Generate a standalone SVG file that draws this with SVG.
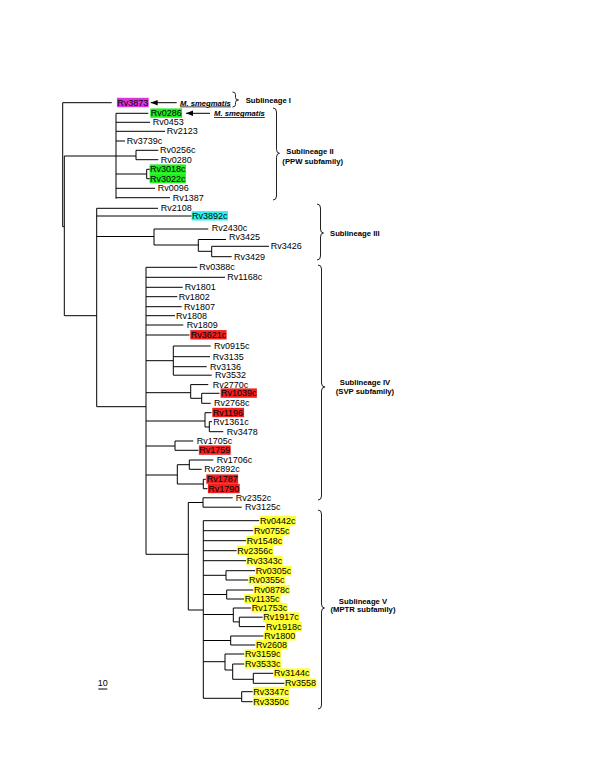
<svg xmlns="http://www.w3.org/2000/svg" width="600" height="776" viewBox="0 0 600 776">
<defs>
<style>
text{font-family:"Liberation Sans",Arial,sans-serif;fill:#000}
.lf{font-size:9px}
.lb{font-size:7.7px;font-weight:bold}
.ms{font-size:7.7px;font-weight:bold;font-style:italic;text-decoration:underline}
.br{fill:none;stroke:#222;stroke-width:1}
.tr{fill:none;stroke:#000;stroke-width:1}
.m{fill:#dd33dd}.g{fill:#22ee22}.c{fill:#33eeee}.r{fill:#ee2020}.y{fill:#ffff33}
</style>
<marker id="ah" markerUnits="userSpaceOnUse" markerWidth="7" markerHeight="6" refX="7" refY="3" orient="auto"><path d="M0,0.3 L7,3 L0,5.7 z" fill="#000"/></marker>
</defs>
<rect width="600" height="776" fill="#fff"/>
<g id="connectors" class="tr">
<path d="M62.7,102.7V226.7M62.7,102.7H111.7M62.7,226.7H64.3M64.3,156V315.7M64.3,156H136
M116,113.3V198.7M116,113.3H148.3M116,122.3H150M116,131.3H165M116,141H125
M136,150.3V159.7M136,150.3H158.3M136,159.7H158.3M116,174H146.7M146.7,169.3V178.7M146.7,169.3H150M146.7,178.7H150
M116,188.3H155M116,197.7H170
M64.3,315.7H96.7M96.7,208.3V406.7M96.7,208.3H158M96.7,216H191.7M96.7,236.5H154
M154,229V245M154,229H208.3M154,245H198.3M198.3,239.5V251.3M198.3,239.5H226M198.3,251.3H211.7
M211.7,246.3V256.7M211.7,246.3H269M211.7,256.7H231.7
M96.7,406.7H146M146,267.3V554.3
M146,267.3H197.3M146,277.3H225M146,287.3H182.7M146,296.7H177.3M146,306.7H181.7M146,315.7H175M146,325H183.3M146,335H189.5
M146,360.7H173.3M173.3,346V375.2M173.3,346H210.7M173.3,356.7H210M173.3,366.7H206.7M173.3,375.2H211.7
M146,392.7H190.7M190.7,384.6V398.3M190.7,384.6H208.3M190.7,398.3H201.7M201.7,393.3V403.3M201.7,393.3H219.5M201.7,403.3H210.7
M146,421H205M205,412.7V427M205,412.7H211.5M205,427H209.3M209.3,421.7V431.7M209.3,421.7H212M209.3,431.7H223.3
M146,446H175M175,441V450.3M175,441H193.3M175,450.3H198.5
M146,475H177.3M177.3,464.7V484M177.3,464.7H189.3M189.3,460V469.3M189.3,460H213.3M189.3,469.3H201.7
M177.3,484H203.3M203.3,479.3V488.7M203.3,479.3H205.8M203.3,488.7H207.5
M146,554.3H188.3M188.3,502.5V610M188.3,502.5H203M203,497.8V507.2M203,497.8H232.7M203,507.2H241.7
M188.3,610H203.3M203.3,520.7V698.3
M203.3,520.7H259.3M203.3,530.7H253.3M203.3,540.7H246M203.3,550.7H236.7M203.3,560.7H246
M203.3,575.3H226M226,570.7V580M226,570.7H255M226,580H248.3
M203.3,594.5H226.7M226.7,590V599M226.7,590H253.3M226.7,599H244
M203.3,614.5H233.3M233.3,608V621.9M233.3,608H251M233.3,621.9H239.3M239.3,617.2V626.6M239.3,617.2H262.7M239.3,626.6H265
M203.3,640.5H230.7M230.7,636V645M230.7,636H263.5M230.7,645H255.3
M203.3,661.7H225M225,654V670M225,654H244.3M225,670H232.7M232.7,664V679.3M232.7,664H244.3M232.7,679.3H253.3
M253.3,673.3V683.3M253.3,673.3H273.5M253.3,683.3H284.5
M203.3,698.3H241.7M241.7,691.7V701.7M241.7,691.7H252.7M241.7,701.7H252.7"/>
<line x1="176.7" y1="102.7" x2="150.7" y2="102.7" marker-end="url(#ah)"/>
<line x1="210" y1="113.3" x2="186" y2="113.3" marker-end="url(#ah)"/>
</g>
<g id="annotations">
<text class="ms" x="180" y="105.5">M. smegmatis</text>
<text class="ms" x="214" y="116">M. smegmatis</text>
<path class="br" d="M232.5,92Q235.5,92 235.5,94.5L235.5,97.5Q235.5,100 238.5,100Q235.5,100 235.5,102.5L235.5,104.5Q235.5,107 232.5,107"/>
<path class="br" d="M273,108Q276.5,108 276.5,112L276.5,149.3Q276.5,153.3 279.5,153.3Q276.5,153.3 276.5,157.3L276.5,196Q276.5,200 273,200"/>
<path class="br" d="M317,204Q320.5,204 320.5,208L320.5,229Q320.5,233 323.5,233Q320.5,233 320.5,237L320.5,256Q320.5,260 317,260"/>
<path class="br" d="M318,265Q321.5,265 321.5,269L321.5,383Q321.5,387 325,387Q321.5,387 321.5,391L321.5,496Q321.5,500 318,500"/>
<path class="br" d="M318,510Q321.5,510 321.5,514L321.5,604Q321.5,608 324.5,608Q321.5,608 321.5,612L321.5,705Q321.5,709 318,709"/>
<text class="lb" x="245.7" y="102.7">Sublineage I</text>
<text class="lb" x="310" y="154.4" text-anchor="middle">Sublineage II</text>
<text class="lb" x="312.7" y="163.7" text-anchor="middle">(PPW subfamily)</text>
<text class="lb" x="330" y="236">Sublineage III</text>
<text class="lb" x="365" y="385.4" text-anchor="middle">Sublineage IV</text>
<text class="lb" x="365" y="394" text-anchor="middle">(SVP subfamily)</text>
<text class="lb" x="363" y="603.7" text-anchor="middle">Sublineage V</text>
<text class="lb" x="363" y="612.2" text-anchor="middle">(MPTR subfamily)</text>
<text class="lf" x="102.7" y="685.5" text-anchor="middle">10</text>
<line x1="98.3" y1="689" x2="107.3" y2="689" stroke="#000" stroke-width="1"/>
</g>
<g id="leaves">
<g id="Rv3873"><rect class="m" x="116.9" y="97.8" width="31.8" height="9.4"/><text class="lf" x="117.3" y="105.6">Rv3873</text></g>
<g id="Rv0286"><rect class="g" x="150.3" y="108.4" width="31.8" height="9.4"/><text class="lf" x="150.7" y="116.2">Rv0286</text></g>
<g id="Rv0453"><text class="lf" x="152.7" y="125.2">Rv0453</text></g>
<g id="Rv2123"><text class="lf" x="166.7" y="134.2">Rv2123</text></g>
<g id="Rv3739c"><text class="lf" x="126.7" y="143.9">Rv3739c</text></g>
<g id="Rv0256c"><text class="lf" x="160" y="153.2">Rv0256c</text></g>
<g id="Rv0280"><text class="lf" x="160.7" y="162.6">Rv0280</text></g>
<g id="Rv3018c"><rect class="g" x="149.6" y="164.4" width="36.3" height="9.4"/><text class="lf" x="150" y="172.2">Rv3018c</text></g>
<g id="Rv3022c"><rect class="g" x="149.6" y="173.8" width="36.3" height="9.4"/><text class="lf" x="150" y="181.6">Rv3022c</text></g>
<g id="Rv0096"><text class="lf" x="157.7" y="191.2">Rv0096</text></g>
<g id="Rv1387"><text class="lf" x="172.7" y="200.6">Rv1387</text></g>
<g id="Rv2108"><text class="lf" x="160.7" y="210.9">Rv2108</text></g>
<g id="Rv3892c"><rect class="c" x="191.6" y="211.1" width="36.3" height="9.4"/><text class="lf" x="192" y="218.9">Rv3892c</text></g>
<g id="Rv2430c"><text class="lf" x="211.7" y="231.4">Rv2430c</text></g>
<g id="Rv3425"><text class="lf" x="229" y="240.2">Rv3425</text></g>
<g id="Rv3426"><text class="lf" x="270.7" y="249">Rv3426</text></g>
<g id="Rv3429"><text class="lf" x="234" y="259.6">Rv3429</text></g>
<g id="Rv0388c"><text class="lf" x="199.3" y="270.2">Rv0388c</text></g>
<g id="Rv1168c"><text class="lf" x="227.3" y="280.2">Rv1168c</text></g>
<g id="Rv1801"><text class="lf" x="184.7" y="290.2">Rv1801</text></g>
<g id="Rv1802"><text class="lf" x="178.7" y="299.6">Rv1802</text></g>
<g id="Rv1807"><text class="lf" x="184" y="309.6">Rv1807</text></g>
<g id="Rv1808"><text class="lf" x="176" y="318.6">Rv1808</text></g>
<g id="Rv1809"><text class="lf" x="186.7" y="327.9">Rv1809</text></g>
<g id="Rv3621c"><rect class="r" x="190.3" y="330.1" width="36.3" height="9.4"/><text class="lf" x="190.7" y="337.9">Rv3621c</text></g>
<g id="Rv0915c"><text class="lf" x="214" y="348.9">Rv0915c</text></g>
<g id="Rv3135"><text class="lf" x="212.7" y="359.6">Rv3135</text></g>
<g id="Rv3136"><text class="lf" x="210" y="369.6">Rv3136</text></g>
<g id="Rv3532"><text class="lf" x="215" y="378.1">Rv3532</text></g>
<g id="Rv2770c"><text class="lf" x="212.7" y="387.5">Rv2770c</text></g>
<g id="Rv1039c"><rect class="r" x="220.6" y="388.4" width="36.3" height="9.4"/><text class="lf" x="221" y="396.2">Rv1039c</text></g>
<g id="Rv2768c"><text class="lf" x="214" y="406.2">Rv2768c</text></g>
<g id="Rv1196"><rect class="r" x="212.3" y="407.8" width="31.8" height="9.4"/><text class="lf" x="212.7" y="415.6">Rv1196</text></g>
<g id="Rv1361c"><text class="lf" x="213.3" y="424.6">Rv1361c</text></g>
<g id="Rv3478"><text class="lf" x="226.7" y="434.6">Rv3478</text></g>
<g id="Rv1705c"><text class="lf" x="196.7" y="443.9">Rv1705c</text></g>
<g id="Rv1759"><rect class="r" x="198.9" y="445.4" width="31.8" height="9.4"/><text class="lf" x="199.3" y="453.2">Rv1759</text></g>
<g id="Rv1706c"><text class="lf" x="216.7" y="462.9">Rv1706c</text></g>
<g id="Rv2892c"><text class="lf" x="204.3" y="472.2">Rv2892c</text></g>
<g id="Rv1787"><rect class="r" x="206.3" y="474.4" width="31.8" height="9.4"/><text class="lf" x="206.7" y="482.2">Rv1787</text></g>
<g id="Rv1790"><rect class="r" x="207.9" y="483.8" width="31.8" height="9.4"/><text class="lf" x="208.3" y="491.6">Rv1790</text></g>
<g id="Rv2352c"><text class="lf" x="235.7" y="500.7">Rv2352c</text></g>
<g id="Rv3125c"><text class="lf" x="245" y="510.1">Rv3125c</text></g>
<g id="Rv0442c"><rect class="y" x="259.6" y="515.8" width="36.3" height="9.4"/><text class="lf" x="260" y="523.6">Rv0442c</text></g>
<g id="Rv0755c"><rect class="y" x="253.6" y="525.8" width="36.3" height="9.4"/><text class="lf" x="254" y="533.6">Rv0755c</text></g>
<g id="Rv1548c"><rect class="y" x="246.3" y="535.8" width="36.3" height="9.4"/><text class="lf" x="246.7" y="543.6">Rv1548c</text></g>
<g id="Rv2356c"><rect class="y" x="236.9" y="545.8" width="36.3" height="9.4"/><text class="lf" x="237.3" y="553.6">Rv2356c</text></g>
<g id="Rv3343c"><rect class="y" x="246.3" y="555.8" width="36.3" height="9.4"/><text class="lf" x="246.7" y="563.6">Rv3343c</text></g>
<g id="Rv0305c"><rect class="y" x="255.3" y="565.8" width="36.3" height="9.4"/><text class="lf" x="255.7" y="573.6">Rv0305c</text></g>
<g id="Rv0355c"><rect class="y" x="248.6" y="575.1" width="36.3" height="9.4"/><text class="lf" x="249" y="582.9">Rv0355c</text></g>
<g id="Rv0878c"><rect class="y" x="253.6" y="585.1" width="36.3" height="9.4"/><text class="lf" x="254" y="592.9">Rv0878c</text></g>
<g id="Rv1135c"><rect class="y" x="244.3" y="594.1" width="36.3" height="9.4"/><text class="lf" x="244.7" y="601.9">Rv1135c</text></g>
<g id="Rv1753c"><rect class="y" x="251.3" y="603.1" width="36.3" height="9.4"/><text class="lf" x="251.7" y="610.9">Rv1753c</text></g>
<g id="Rv1917c"><rect class="y" x="262.9" y="612.3" width="36.3" height="9.4"/><text class="lf" x="263.3" y="620.1">Rv1917c</text></g>
<g id="Rv1918c"><rect class="y" x="265.6" y="621.7" width="36.3" height="9.4"/><text class="lf" x="266" y="629.5">Rv1918c</text></g>
<g id="Rv1800"><rect class="y" x="263.9" y="631.1" width="31.8" height="9.4"/><text class="lf" x="264.3" y="638.9">Rv1800</text></g>
<g id="Rv2608"><rect class="y" x="255.6" y="640.1" width="31.8" height="9.4"/><text class="lf" x="256" y="647.9">Rv2608</text></g>
<g id="Rv3159c"><rect class="y" x="244.6" y="649.1" width="36.3" height="9.4"/><text class="lf" x="245" y="656.9">Rv3159c</text></g>
<g id="Rv3533c"><rect class="y" x="244.6" y="659.1" width="36.3" height="9.4"/><text class="lf" x="245" y="666.9">Rv3533c</text></g>
<g id="Rv3144c"><rect class="y" x="273.6" y="668.4" width="36.3" height="9.4"/><text class="lf" x="274" y="676.2">Rv3144c</text></g>
<g id="Rv3558"><rect class="y" x="284.6" y="678.4" width="31.8" height="9.4"/><text class="lf" x="285" y="686.2">Rv3558</text></g>
<g id="Rv3347c"><rect class="y" x="252.9" y="686.8" width="36.3" height="9.4"/><text class="lf" x="253.3" y="694.6">Rv3347c</text></g>
<g id="Rv3350c"><rect class="y" x="252.9" y="696.8" width="36.3" height="9.4"/><text class="lf" x="253.3" y="704.6">Rv3350c</text></g>
</g>
</svg>
